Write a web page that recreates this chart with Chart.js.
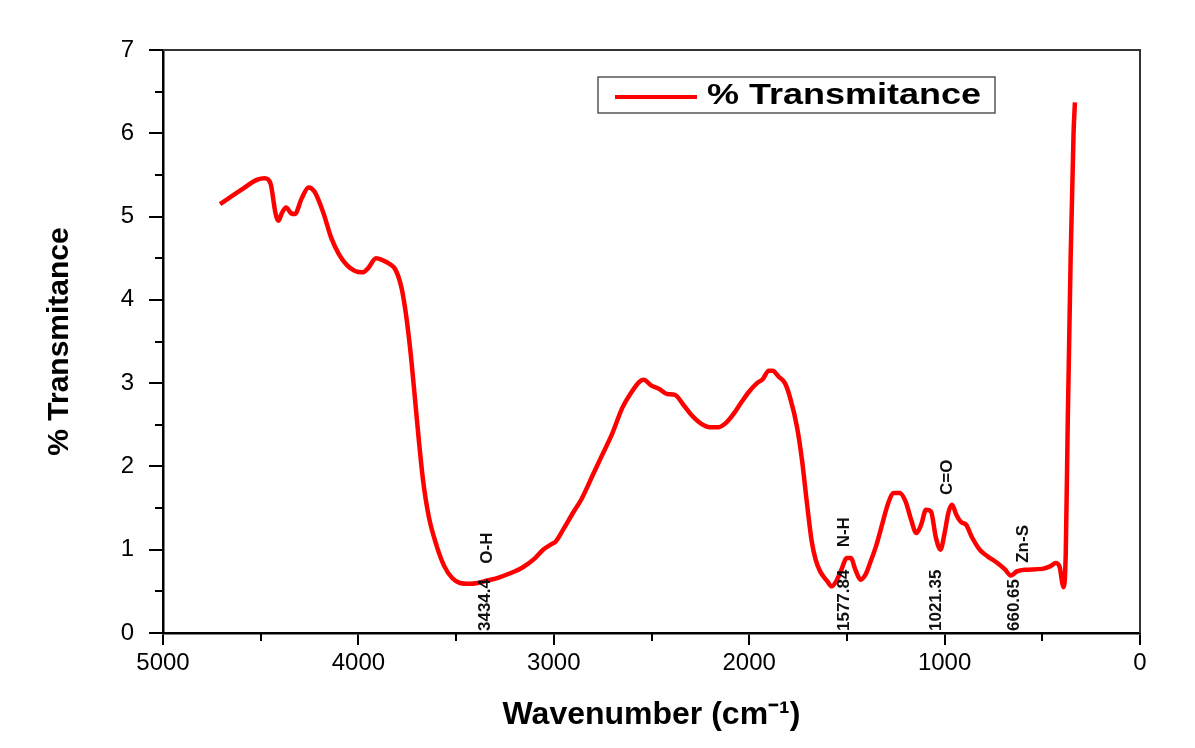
<!DOCTYPE html>
<html lang="en">
<head>
    <meta charset="UTF-8">
    <title>% Transmitance</title>
    <script src="https://cdn.jsdelivr.net/npm/chart.js"></script>
    <style>
        html, body { margin: 0; padding: 0; background: #fff; }
        #wrap { width: 1195px; height: 748px; position: relative; }
    </style>
</head>
<body>
<div id="wrap"><canvas id="ftirChart"></canvas></div>
<script>
    // spectrum (cm-1, % transmittance)
    var wavenumbers = [
        4708, 4600, 4520, 4480, 4450, 4425, 4410, 4390, 4370, 4345, 4325, 4290, 4255, 4225, 4180,
        4140, 4100, 4060, 4020, 3980, 3950, 3910, 3880, 3840, 3810, 3780, 3755, 3730, 3710, 3690,
        3670, 3640, 3600, 3560, 3520, 3480, 3434, 3390, 3340, 3290, 3220, 3158, 3100, 3055, 3010,
        2990, 2950, 2900, 2860, 2800, 2760, 2700, 2650, 2600, 2560, 2540, 2500, 2460, 2420, 2380,
        2340, 2300, 2250, 2200, 2160, 2120, 2080, 2040, 2000, 1960, 1930, 1900, 1880, 1850, 1817,
        1790, 1755, 1730, 1704, 1680, 1660, 1637, 1600, 1578, 1555, 1530, 1500, 1480, 1455, 1430,
        1405, 1380, 1350, 1320, 1290, 1260, 1230, 1200, 1170, 1145, 1120, 1095, 1070, 1045, 1021,
        1000, 980, 962, 940, 915, 890, 860, 820, 780, 730, 690, 661, 630, 590, 500,
        460, 430, 410, 398, 392, 380, 370, 355, 340, 333
    ];
    var transmittance = [
        5.15, 5.32, 5.44, 5.46, 5.40, 5.05, 4.95, 5.05, 5.11, 5.04, 5.03, 5.22, 5.35, 5.30, 5.05,
        4.75, 4.55, 4.42, 4.35, 4.33, 4.38, 4.50, 4.48, 4.43, 4.36, 4.15, 3.80, 3.30, 2.80, 2.30,
        1.85, 1.40, 1.05, 0.80, 0.66, 0.60, 0.59, 0.60, 0.63, 0.66, 0.72, 0.79, 0.89, 1.00, 1.07,
        1.10, 1.25, 1.45, 1.60, 1.90, 2.10, 2.40, 2.70, 2.90, 3.02, 3.04, 2.97, 2.93, 2.87, 2.86,
        2.75, 2.63, 2.52, 2.47, 2.47, 2.52, 2.63, 2.77, 2.90, 3.00, 3.05, 3.15, 3.15, 3.08, 3.00,
        2.82, 2.47, 2.08, 1.55, 1.10, 0.88, 0.74, 0.62, 0.56, 0.62, 0.75, 0.90, 0.90, 0.75, 0.64,
        0.70, 0.85, 1.05, 1.30, 1.55, 1.68, 1.68, 1.58, 1.35, 1.20, 1.30, 1.48, 1.46, 1.15, 1.00,
        1.20, 1.45, 1.54, 1.42, 1.33, 1.30, 1.15, 1.00, 0.92, 0.84, 0.76, 0.69, 0.74, 0.76, 0.77,
        0.80, 0.84, 0.78, 0.60, 0.55, 0.95, 2.50, 4.50, 6.00, 6.37
    ];

    // marked peaks
    var peakWavenumbers = [3434.4, 1577.84, 1021.35, 660.65];
    var peakValueLabels = ['3434.4', '1577.84', '1021.35', '660.65'];
    var peakGroupLabels = ['O-H', 'N-H', 'C=O', 'Zn-S'];

    // minor ticks between the labelled ones
    var xMinorTicks = [4500, 3500, 2500, 1500, 500];
    var yMinorTicks = [0.5, 1.5, 2.5, 3.5, 4.5, 5.5, 6.5];

    var seriesName = '% Transmitance';
    var xTitle = 'Wavenumber (cm\u207B\u00B9)';
    var yTitle = '% Transmitance';

    // peak labels, drawn rotated over the curve
    var peakLabelPlugin = {
        id: 'peakLabels',
        afterDatasetsDraw: function(chart, args, opts) {
            var ctx = chart.ctx;
            var xs = chart.scales.x, ys = chart.scales.y;
            ctx.save();
            ctx.fillStyle = '#111';
            ctx.font = 'bold 17px "Liberation Sans", Arial, sans-serif';
            ctx.textBaseline = 'middle';
            peakWavenumbers.forEach(function(w, i) {
                var px = xs.getPixelForValue(w);
                // value, standing on the x axis
                ctx.save();
                ctx.translate(px + opts.valueDx[i], ys.getPixelForValue(0) - 2);
                ctx.rotate(-Math.PI / 2);
                ctx.textAlign = 'left';
                ctx.fillText(peakValueLabels[i], 0, 0);
                ctx.restore();
                // group name, above the curve
                ctx.save();
                ctx.translate(px + opts.nameDx[i], ys.getPixelForValue(opts.nameY[i]));
                ctx.rotate(-Math.PI / 2);
                ctx.textAlign = 'center';
                ctx.fillText(peakGroupLabels[i], 0, 0);
                ctx.restore();
            });
            ctx.restore();
        }
    };

    // top/right frame, minor ticks and the boxed legend
    var framePlugin = {
        id: 'frameLegend',
        afterDraw: function(chart) {
            var ctx = chart.ctx, a = chart.chartArea;
            var xs = chart.scales.x, ys = chart.scales.y;
            ctx.save();
            ctx.strokeStyle = '#333';
            ctx.lineWidth = 2;
            ctx.beginPath();
            ctx.moveTo(a.left, a.top);
            ctx.lineTo(a.right, a.top);
            ctx.lineTo(a.right, a.bottom);
            ctx.stroke();

            ctx.strokeStyle = '#000';
            ctx.beginPath();
            xMinorTicks.forEach(function(v) {
                var px = Math.round(xs.getPixelForValue(v));
                ctx.moveTo(px, a.bottom);
                ctx.lineTo(px, a.bottom + 8);
            });
            yMinorTicks.forEach(function(v) {
                var py = Math.round(ys.getPixelForValue(v));
                ctx.moveTo(a.left, py);
                ctx.lineTo(a.left - 8, py);
            });
            ctx.stroke();

            var bx = a.left + 435, by = a.top + 27;
            ctx.lineWidth = 1.5;
            ctx.strokeStyle = '#555';
            ctx.strokeRect(bx, by, 397, 36);
            ctx.strokeStyle = '#ff0000';
            ctx.lineWidth = 4;
            ctx.beginPath();
            ctx.moveTo(bx + 17, by + 20);
            ctx.lineTo(bx + 99, by + 20);
            ctx.stroke();
            ctx.fillStyle = '#000';
            ctx.font = 'bold 30px "Liberation Sans", Arial, sans-serif';
            ctx.textBaseline = 'middle';
            ctx.translate(bx + 109, by + 19);
            ctx.scale(1.2, 1);
            ctx.fillText(seriesName, 0, 0);
            ctx.restore();
        }
    };

    var ctx = document.getElementById('ftirChart').getContext('2d');
    var ftirChart = new Chart(ctx, {
        type: 'line',
        data: {
            datasets: [{
                label: seriesName,
                data: wavenumbers.map(function(w, i) { return { x: w, y: transmittance[i] }; }),
                borderColor: '#ff0000',
                borderWidth: 4.5,
                pointRadius: 0,
                fill: false,
                cubicInterpolationMode: 'monotone'
            }]
        },
        options: {
            responsive: true,
            maintainAspectRatio: false,
            animation: false,
            layout: { padding: { top: 50, right: 55, left: 0, bottom: 0 } },
            plugins: {
                legend: { display: false },
                tooltip: { enabled: false },
                peakLabels: {
                    valueDx: [16, 13, -4, 3],
                    nameDx: [18, 13, 7, 12],
                    nameY: [1.02, 1.21, 1.87, 1.07]
                }
            },
            scales: {
                x: {
                    type: 'linear',
                    reverse: true,
                    min: 0,
                    max: 5000,
                    afterFit: function(scale) { scale.height = 115; },
                    ticks: {
                        stepSize: 1000,
                        autoSkip: false,
                        maxRotation: 0,
                        padding: 4,
                        color: '#000',
                        font: { family: '"Liberation Sans", Arial, sans-serif', size: 24 },
                        callback: function(v) { return String(v); }
                    },
                    grid: { drawOnChartArea: false, drawTicks: true, tickLength: 12, color: '#000', lineWidth: 2 },
                    border: { color: '#000', width: 2.5 },
                    title: {
                        display: true,
                        text: xTitle,
                        color: '#000',
                        font: { family: '"Liberation Sans", Arial, sans-serif', size: 32, weight: 'bold' },
                        padding: { top: 0, bottom: 14 }
                    }
                },
                y: {
                    min: 0,
                    max: 7,
                    afterFit: function(scale) { scale.width = 163; },
                    ticks: {
                        stepSize: 1,
                        autoSkip: false,
                        padding: 15,
                        color: '#000',
                        font: { family: '"Liberation Sans", Arial, sans-serif', size: 24 },
                        callback: function(v) { return String(v); }
                    },
                    grid: { drawOnChartArea: false, drawTicks: true, tickLength: 14, color: '#000', lineWidth: 2 },
                    border: { color: '#000', width: 2.5 },
                    title: {
                        display: true,
                        text: yTitle,
                        color: '#000',
                        font: { family: '"Liberation Sans", Arial, sans-serif', size: 30, weight: 'bold' },
                        padding: { top: 42, bottom: 0 }
                    }
                }
            }
        },
        plugins: [peakLabelPlugin, framePlugin]
    });
</script>
</body>
</html>
